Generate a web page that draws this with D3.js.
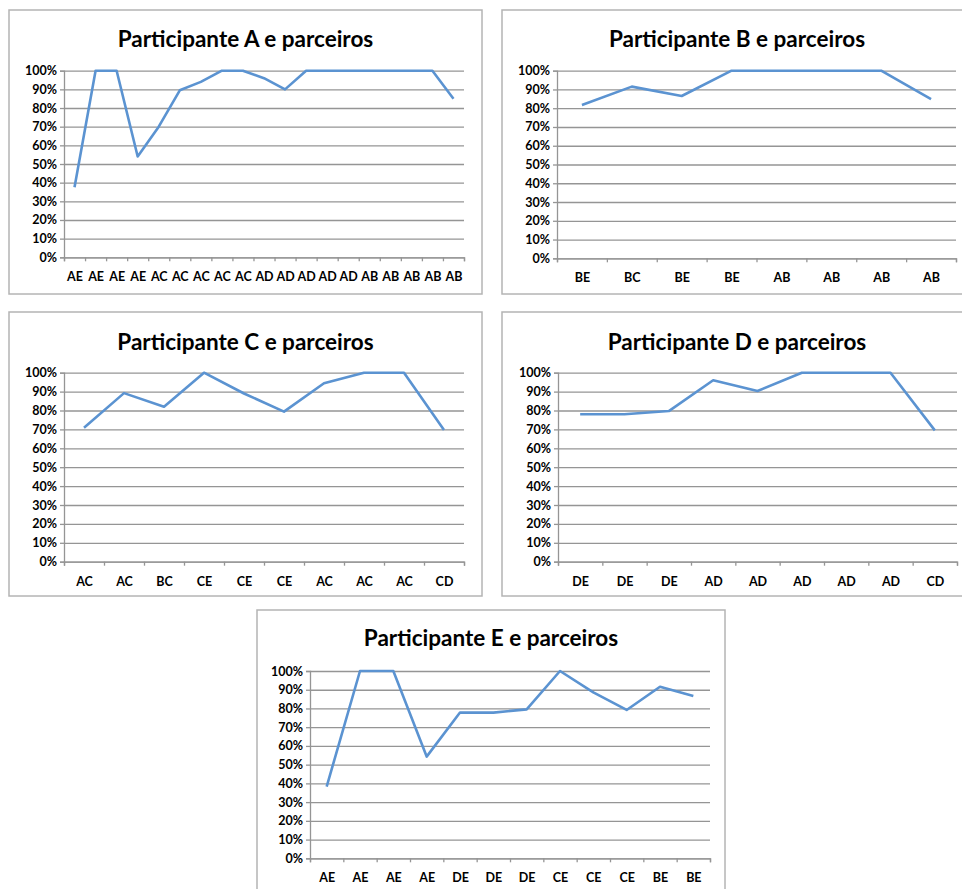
<!DOCTYPE html>
<html>
<head>
<meta charset="utf-8">
<script src="https://cdn.jsdelivr.net/npm/d3@7"></script>
<style>
  body { margin: 0; background: #fff; }
  text { font-family: Lato, "Open Sans", sans-serif; font-weight: bold; fill: #000; }
</style>
</head>
<body>
<div id="body"></div>
<script>
// data
var catsA = ["AE","AE","AE","AE","AC","AC","AC","AC","AC","AD","AD","AD","AD","AD","AB","AB","AB","AB","AB"];
var valsA = [0.375,1,1,0.54,0.70,0.895,0.94,1,1,0.96,0.90,1,1,1,1,1,1,1,0.85];

var catsB = ["BE","BC","BE","BE","AB","AB","AB","AB"];
var valsB = [0.817,0.915,0.865,1,1,1,1,0.849];

var catsC = ["AC","AC","BC","CE","CE","CE","AC","AC","AC","CD"];
var valsC = [0.709,0.892,0.82,1,0.89,0.794,0.944,1,1,0.697];

var catsD = ["DE","DE","DE","AD","AD","AD","AD","AD","CD"];
var valsD = [0.78,0.78,0.797,0.96,0.903,1,1,1,0.695];

var catsE = ["AE","AE","AE","AE","DE","DE","DE","CE","CE","CE","BE","BE"];
var valsE = [0.383,1,1,0.543,0.778,0.778,0.795,1,0.886,0.792,0.916,0.866];

var titles = ["Participante A e parceiros","Participante B e parceiros","Participante C e parceiros",
              "Participante D e parceiros","Participante E e parceiros"];
var yTicks = [0,0.1,0.2,0.3,0.4,0.5,0.6,0.7,0.8,0.9,1];

// layout of each panel (box + plot area)
var panels = [
  { cats: catsA, vals: valsA, title: titles[0], box: [9, 10, 473, 284], tx: 245.5, ty: 47, plot: [64, 70.7, 464, 257.3] },
  { cats: catsB, vals: valsB, title: titles[1], box: [502, 10, 470, 284], tx: 737, ty: 47, plot: [557, 70.7, 956, 258.3] },
  { cats: catsC, vals: valsC, title: titles[2], box: [9, 312, 473, 284], tx: 245.5, ty: 349.5, plot: [64, 372.7, 464, 561.7] },
  { cats: catsD, vals: valsD, title: titles[3], box: [502, 312, 470, 284], tx: 737, ty: 349.5, plot: [558, 372.7, 957, 561.7] },
  { cats: catsE, vals: valsE, title: titles[4], box: [257, 610, 468, 290], tx: 491, ty: 645.5, plot: [310, 671, 710, 858.3] }
];

var svg = d3.select("#body").append("svg")
  .attr("width", 962).attr("height", 889);

panels.forEach(function (p) {
  var g = svg.append("g");
  var n = p.cats.length;
  var x = d3.scaleLinear().domain([0, n]).range([p.plot[0], p.plot[2]]);
  var y = d3.scaleLinear().domain([0, 1]).range([p.plot[3], p.plot[1]]);

  g.append("rect")
    .attr("x", p.box[0]).attr("y", p.box[1])
    .attr("width", p.box[2]).attr("height", p.box[3])
    .attr("fill", "#fff").attr("stroke", "#b4b4b4").attr("stroke-width", 1.5);

  g.append("text")
    .attr("x", p.tx).attr("y", p.ty)
    .attr("text-anchor", "middle")
    .style("font-size", "22.5px")
    .text(p.title);

  // gridlines
  g.append("g")
    .attr("transform", "translate(" + p.plot[0] + ",0)")
    .call(d3.axisLeft(y).tickValues(yTicks).tickSize(-(p.plot[2] - p.plot[0])).tickFormat(""))
    .call(function (s) {
      s.select(".domain").remove();
      s.selectAll("line").attr("stroke", "#959595").attr("stroke-width", 1.3);
    });

  // y axis
  g.append("g")
    .attr("transform", "translate(" + p.plot[0] + ",0)")
    .call(d3.axisLeft(y).tickValues(yTicks).tickSize(4).tickPadding(3).tickFormat(d3.format(".0%")))
    .call(function (s) {
      s.select(".domain").attr("stroke", "#959595").attr("stroke-width", 1.3);
      s.selectAll("line").attr("stroke", "#959595").attr("stroke-width", 1.3);
      s.selectAll("text").style("font-size", "12.5px").style("font-family", "Lato, sans-serif").style("font-weight", "bold").attr("fill", "#000");
    });

  // x axis tick marks at category boundaries
  g.append("g")
    .attr("transform", "translate(0," + p.plot[3] + ")")
    .call(d3.axisBottom(x).tickValues(d3.range(n + 1)).tickSize(4).tickFormat(""))
    .call(function (s) {
      s.select(".domain").attr("stroke", "#959595").attr("stroke-width", 1.3);
      s.selectAll("line").attr("stroke", "#959595").attr("stroke-width", 1.3);
    });

  // x category labels
  g.append("g")
    .attr("transform", "translate(0," + p.plot[3] + ")")
    .call(d3.axisBottom(x).tickValues(d3.range(n).map(function (i) { return i + 0.5; }))
      .tickSize(0).tickPadding(15)
      .tickFormat(function (d) { return p.cats[Math.floor(d)]; }))
    .call(function (s) {
      s.select(".domain").remove();
      s.selectAll("text").style("font-size", "12.5px").style("font-family", "Lato, sans-serif").style("font-weight", "bold").attr("fill", "#000");
    });

  var line = d3.line()
    .x(function (d, i) { return x(i + 0.5); })
    .y(function (d) { return y(d); });

  g.append("path")
    .datum(p.vals)
    .attr("d", line)
    .attr("fill", "none")
    .attr("stroke", "#5b93d1")
    .attr("stroke-width", 2.6)
    .attr("stroke-linejoin", "round");
});
</script>
</body>
</html>
